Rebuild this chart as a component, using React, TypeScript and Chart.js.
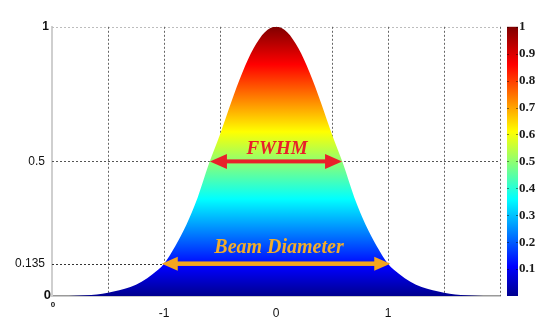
import { useEffect, useRef } from 'react';
import { Chart, registerables } from 'chart.js';

Chart.register(...registerables);

// Beam profile (normalised intensity vs. radius)
const X_POSITIONS = [
  -2.0, -1.9, -1.8, -1.7, -1.6, -1.5, -1.4, -1.3, -1.2, -1.1, -1.0, -0.9, -0.8, -0.7, -0.6, -0.5, -0.4, -0.3, -0.2, -0.1,
  0.0, 0.1, 0.2, 0.3, 0.4, 0.5, 0.6, 0.7, 0.8, 0.9, 1.0, 1.1, 1.2, 1.3, 1.4, 1.5, 1.6, 1.7, 1.8, 1.9, 2.0,
];
const INTENSITY = [
  0.0, 0.0, 0.001, 0.003, 0.006, 0.012, 0.021, 0.033, 0.053, 0.082, 0.12, 0.185, 0.265, 0.365, 0.49, 0.6, 0.72, 0.83, 0.92, 0.98,
  1.0, 0.98, 0.92, 0.83, 0.72, 0.6, 0.49, 0.365, 0.265, 0.185, 0.12, 0.082, 0.053, 0.033, 0.021, 0.012, 0.006, 0.003, 0.001, 0.0, 0.0,
];

const Y_TICK_VALUES = [0, 0.12, 0.5, 1];
const Y_TICK_LABELS = ['0', '0.135', '0.5', '1'];
const X_TICK_VALUES = [-2, -1, 0, 1];
const X_TICK_LABELS = ['', '-1', '0', '1'];
const X_GRID_VALUES = [-1.5, -1, -0.5, 0, 0.5, 1, 1.5, 2];
const COLORBAR_TICKS = [0.1, 0.2, 0.3, 0.4, 0.5, 0.6, 0.7, 0.8, 0.9, 1];
const COLORBAR_LABELS = ['0.1', '0.2', '0.3', '0.4', '0.5', '0.6', '0.7', '0.8', '0.9', '1'];

const FWHM_LABEL = 'FWHM';
const FWHM_LEVEL = 0.5;
const FWHM_HALF_WIDTH = 0.59;
const BEAM_LABEL = 'Beam Diameter';
const BEAM_LEVEL = 0.12;
const BEAM_HALF_WIDTH = 1.02;

const JET_STOPS: [number, string][] = [
  [0, '#00008f'],
  [0.11, '#0000ff'],
  [0.36, '#00ffff'],
  [0.61, '#ffff00'],
  [0.86, '#ff0000'],
  [1, '#800000'],
];

const SANS = '"Liberation Sans", Arial, sans-serif';
const SERIF = '"Liberation Serif", "Times New Roman", serif';

function jetGradient(ctx: CanvasRenderingContext2D, yBottom: number, yTop: number) {
  const g = ctx.createLinearGradient(0, yBottom, 0, yTop);
  JET_STOPS.forEach(([p, c]) => g.addColorStop(p, c));
  return g;
}

function drawArrow(
  ctx: CanvasRenderingContext2D,
  x1: number,
  x2: number,
  y: number,
  color: string,
  shaft: number,
  headLen: number,
  headHalf: number
) {
  ctx.save();
  ctx.fillStyle = color;
  ctx.fillRect(x1 + headLen - 1, y - shaft / 2, x2 - x1 - 2 * headLen + 2, shaft);
  ctx.beginPath();
  ctx.moveTo(x1, y);
  ctx.lineTo(x1 + headLen, y - headHalf);
  ctx.lineTo(x1 + headLen, y + headHalf);
  ctx.closePath();
  ctx.fill();
  ctx.beginPath();
  ctx.moveTo(x2, y);
  ctx.lineTo(x2 - headLen, y - headHalf);
  ctx.lineTo(x2 - headLen, y + headHalf);
  ctx.closePath();
  ctx.fill();
  ctx.restore();
}

const beamPlugin = {
  id: 'beamPlugin',
  beforeDatasetsDraw(chart: any) {
    const { ctx, chartArea } = chart;
    const xs = chart.scales.x;
    const ys = chart.scales.y;
    ctx.save();
    ctx.lineWidth = 1;
    ctx.setLineDash([2, 2]);
    // top border
    ctx.strokeStyle = '#bdbdbd';
    ctx.beginPath();
    ctx.moveTo(chartArea.left, Math.round(ys.getPixelForValue(1)) + 0.5);
    ctx.lineTo(chartArea.right, Math.round(ys.getPixelForValue(1)) + 0.5);
    ctx.stroke();
    // vertical grid
    ctx.strokeStyle = '#666666';
    X_GRID_VALUES.forEach((v) => {
      const x = Math.round(xs.getPixelForValue(v)) + 0.5;
      ctx.beginPath();
      ctx.moveTo(x, chartArea.top);
      ctx.lineTo(x, chartArea.bottom);
      ctx.stroke();
    });
    // half-max line
    ctx.strokeStyle = '#555555';
    let y = Math.round(ys.getPixelForValue(FWHM_LEVEL)) + 0.5;
    ctx.beginPath();
    ctx.moveTo(chartArea.left, y);
    ctx.lineTo(chartArea.right, y);
    ctx.stroke();
    // 1/e^2 line (left side only)
    ctx.strokeStyle = '#333333';
    y = Math.round(ys.getPixelForValue(BEAM_LEVEL)) + 0.5;
    ctx.beginPath();
    ctx.moveTo(chartArea.left, y);
    ctx.lineTo(xs.getPixelForValue(0), y);
    ctx.stroke();
    ctx.restore();
  },
  afterDatasetsDraw(chart: any) {
    const { ctx } = chart;
    const xs = chart.scales.x;
    const ys = chart.scales.y;
    const cb = chart.scales.cb;
    const x0 = xs.getPixelForValue(0);

    // FWHM arrow + label
    const yF = ys.getPixelForValue(FWHM_LEVEL);
    drawArrow(ctx, xs.getPixelForValue(-FWHM_HALF_WIDTH), xs.getPixelForValue(FWHM_HALF_WIDTH), yF, '#e8202a', 4, 17, 7.5);
    ctx.save();
    ctx.font = `italic bold 19px ${SERIF}`;
    ctx.fillStyle = '#e8202a';
    ctx.textAlign = 'center';
    ctx.textBaseline = 'alphabetic';
    ctx.fillText(FWHM_LABEL, x0 + 1, yF - 7);

    // Beam diameter arrow + label
    const yB = ys.getPixelForValue(BEAM_LEVEL);
    drawArrow(ctx, xs.getPixelForValue(-BEAM_HALF_WIDTH), xs.getPixelForValue(BEAM_HALF_WIDTH), yB, '#f5a51e', 4.5, 16, 7);
    ctx.font = `italic bold 20px ${SERIF}`;
    ctx.fillStyle = '#f2ad2a';
    ctx.fillText(BEAM_LABEL, x0 + 3, yB - 11);

    // bold end labels of the y axis, set close to the axis
    ctx.fillStyle = '#111';
    ctx.textAlign = 'right';
    ctx.textBaseline = 'middle';
    ctx.font = `bold 13px ${SANS}`;
    ctx.fillText(Y_TICK_LABELS[0], xs.getPixelForValue(-2) - 1, ys.getPixelForValue(0) - 1);
    ctx.font = `bold 12px ${SANS}`;
    ctx.fillText(Y_TICK_LABELS[3], xs.getPixelForValue(-2) - 3, ys.getPixelForValue(1));

    // small stray "0" at the x-axis origin
    ctx.textAlign = 'center';
    ctx.font = `bold 8px ${SANS}`;
    ctx.textBaseline = 'top';
    ctx.fillText('0', xs.getPixelForValue(-2) + 1, chart.chartArea.bottom + 5);
    ctx.restore();

    // colorbar
    const top = cb.getPixelForValue(1);
    const bottom = cb.getPixelForValue(0);
    const left = chart.chartArea.right + 7;
    const w = 11;
    ctx.save();
    ctx.fillStyle = jetGradient(ctx, bottom, top);
    ctx.fillRect(left, top, w, bottom - top);
    ctx.strokeStyle = 'rgba(0,0,0,0.45)';
    ctx.lineWidth = 1;
    COLORBAR_TICKS.forEach((v) => {
      const y = Math.round(cb.getPixelForValue(v)) + 0.5;
      ctx.beginPath();
      ctx.moveTo(left, y);
      ctx.lineTo(left + 2, y);
      ctx.moveTo(left + w - 2, y);
      ctx.lineTo(left + w, y);
      ctx.stroke();
    });
    ctx.restore();
  },
};

export default function App() {
  const canvasRef = useRef<HTMLCanvasElement | null>(null);

  useEffect(() => {
    const canvas = canvasRef.current;
    if (!canvas) return;
    const chart = new Chart(canvas, {
      type: 'line',
      data: {
        datasets: [
          {
            data: X_POSITIONS.map((x, i) => ({ x, y: INTENSITY[i] })),
            fill: 'origin',
            borderWidth: 0,
            borderColor: 'rgba(0,0,0,0)',
            pointRadius: 0,
            tension: 0.4,
            cubicInterpolationMode: 'monotone',
            backgroundColor: (c: any) => {
              const { chart } = c;
              const ys = chart.scales.y;
              if (!chart.chartArea || !ys) return '#0000ff';
              return jetGradient(chart.ctx, ys.getPixelForValue(0), ys.getPixelForValue(1));
            },
          } as any,
        ],
      },
      options: {
        animation: false,
        responsive: true,
        maintainAspectRatio: false,
        layout: { padding: { top: 21, left: 0, right: 0, bottom: 0 } },
        plugins: { legend: { display: false }, tooltip: { enabled: false } },
        scales: {
          x: {
            type: 'linear',
            min: -2,
            max: 2,
            grid: { display: false, drawTicks: false, tickLength: 0 },
            border: { display: true, color: '#9a9a9a', width: 1.5 },
            afterBuildTicks: (s: any) => {
              s.ticks = X_TICK_VALUES.map((v) => ({ value: v }));
            },
            afterFit: (s: any) => {
              s.height = 30;
            },
            ticks: {
              autoSkip: false,
              maxRotation: 0,
              padding: 10,
              color: '#111',
              font: { family: SANS, size: 12 },
              callback: (_v: any, i: number) => X_TICK_LABELS[i],
            },
          },
          y: {
            type: 'linear',
            min: 0,
            max: 1,
            grid: { display: false, drawTicks: false, tickLength: 0 },
            border: { display: true, color: '#cfcfcf', width: 2 },
            afterBuildTicks: (s: any) => {
              s.ticks = Y_TICK_VALUES.map((v) => ({ value: v }));
            },
            afterFit: (s: any) => {
              s.width = 52;
            },
            ticks: {
              autoSkip: false,
              padding: 7,
              color: '#111',
              font: { family: SANS, size: 12 },
              // end labels (0 and 1) are drawn by the plugin close to the axis
              callback: (_v: any, i: number) => (i === 0 || i === 3 ? '' : Y_TICK_LABELS[i]),
            },
          },
          cb: {
            type: 'linear',
            position: 'right',
            min: 0,
            max: 1,
            grid: { display: false, drawTicks: false, tickLength: 0 },
            border: { display: false },
            afterBuildTicks: (s: any) => {
              s.ticks = COLORBAR_TICKS.map((v) => ({ value: v }));
            },
            afterFit: (s: any) => {
              s.width = 53;
            },
            ticks: {
              autoSkip: false,
              padding: 19,
              color: '#1a1a1a',
              font: { family: SERIF, size: 13, weight: 'bold' },
              callback: (_v: any, i: number) => COLORBAR_LABELS[i],
            },
          },
        },
      } as any,
      plugins: [beamPlugin],
    });
    return () => chart.destroy();
  }, []);

  return (
    <div style={{ position: 'fixed', left: 0, top: 0, width: 553, height: 326, background: '#fff' }}>
      <canvas ref={canvasRef} />
    </div>
  );
}
